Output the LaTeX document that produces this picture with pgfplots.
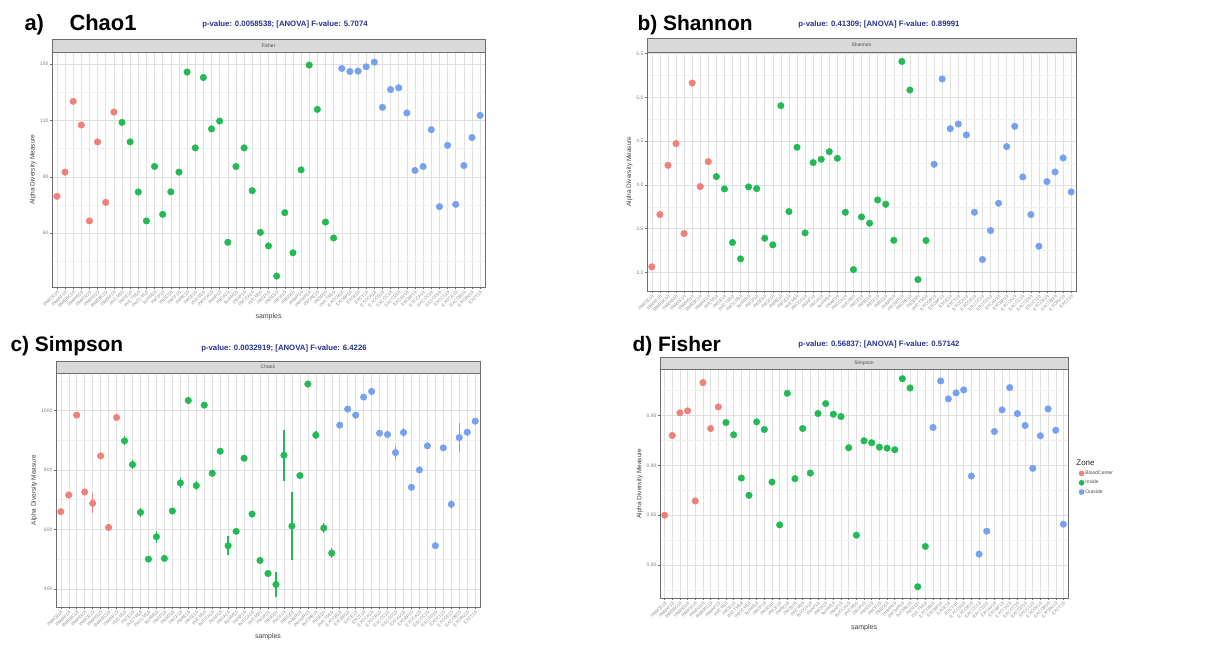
\documentclass[border=0pt]{standalone}
\usepackage{fontspec}
\setmainfont{Liberation Sans}
\usepackage{pgfplots}
\usepackage{pgfplotstable}
\pgfplotsset{compat=1.18}

\definecolor{zoneB}{RGB}{240,128,122}
\definecolor{zoneI}{RGB}{35,185,85}
\definecolor{zoneO}{RGB}{118,160,242}
\definecolor{pvblue}{RGB}{38,48,140}
\definecolor{stripfill}{RGB}{217,217,217}
\definecolor{frame}{RGB}{110,110,110}

\newcommand\fs[1]{\fontsize{#1}{#1}\selectfont}

% Chao1 panel (strip reads "Fisher")
\pgfplotstableread{
x y
1 79.6
2 92.5
3 130.2
4 117.6
5 66.5
6 108.6
7 76.4
8 124.5
9 119.0
10 108.6
11 81.9
12 66.5
13 95.5
14 70.0
15 82.0
16 92.5
17 145.8
18 105.4
19 142.9
20 115.5
21 119.7
22 55.1
23 95.5
24 105.4
25 82.6
26 60.4
27 53.2
28 37.1
29 70.9
30 49.5
31 93.7
32 149.5
33 125.9
34 65.9
35 57.4
36 147.7
37 146.1
38 146.3
39 148.6
40 151.1
41 127.0
42 136.5
43 137.4
44 124.0
45 93.4
46 95.5
47 115.1
48 74.1
49 106.8
50 75.3
51 96.0
52 110.9
53 122.7
}\chaoTab

% Shannon panel
\pgfplotstableread{
x y
1 3.063
2 3.661
3 4.224
4 4.472
5 3.444
6 5.165
7 3.981
8 4.266
9 4.095
10 3.954
11 3.341
12 3.154
13 3.977
14 3.958
15 3.390
16 3.314
17 4.906
18 3.695
19 4.430
20 3.451
21 4.255
22 4.293
23 4.380
24 4.304
25 3.687
26 3.032
27 3.634
28 3.562
29 3.828
30 3.779
31 3.367
32 5.412
33 5.085
34 2.918
35 3.364
36 4.236
37 5.211
38 4.643
39 4.696
40 4.571
41 3.687
42 3.147
43 3.478
44 3.790
45 4.438
46 4.670
47 4.091
48 3.661
49 3.299
50 4.038
51 4.148
52 4.308
53 3.920
}\shanTab

% Simpson panel (strip reads "Chao1"), with standard errors
\pgfplotstableread{
x y e
1 659.6 8
2 715.7 8
3 984.3 8
4 725.8 8
5 687.6 34
6 847.2 6
7 606.7 5
8 976.4 6
9 897.8 15
10 818.0 14
11 657.3 15
12 500.0 8
13 575.3 20
14 502.2 8
15 661.8 8
16 756.2 18
17 1033.7 12
18 747.2 15
19 1018.0 8
20 788.8 10
21 862.9 6
22 545.0 32
23 593.3 6
24 839.3 8
25 651.7 10
26 495.5 8
27 451.7 10
28 414.6 42
29 849.4 85
30 611.2 114
31 780.9 10
32 1088.8 6
33 916.9 14
34 604.5 18
35 520.2 18
36 950.6 12
37 1004.5 8
38 984.3 10
39 1044.9 10
40 1064.0 12
41 923.6 10
42 919.1 10
43 858.4 22
44 925.8 14
45 741.6 10
46 800.0 12
47 880.9 8
48 545.0 10
49 874.2 10
50 684.3 15
51 909.0 48
52 927.0 12
53 964.0 10
}\simpTab

% Fisher panel (strip reads "Simpson")
\pgfplotstableread{
x y
1 0.8500
2 0.9300
3 0.9527
4 0.9547
5 0.8643
6 0.9830
7 0.9370
8 0.9587
9 0.9430
10 0.9307
11 0.8873
12 0.8700
13 0.9437
14 0.9360
15 0.8833
16 0.8403
17 0.9723
18 0.8867
19 0.9370
20 0.8923
21 0.9520
22 0.9620
23 0.9513
24 0.9490
25 0.9177
26 0.8300
27 0.9247
28 0.9227
29 0.9183
30 0.9173
31 0.9157
32 0.9870
33 0.9777
34 0.7783
35 0.8187
36 0.9380
37 0.9847
38 0.9667
39 0.9727
40 0.9757
41 0.8893
42 0.8110
43 0.8340
44 0.9340
45 0.9557
46 0.9780
47 0.9520
48 0.9400
49 0.8970
50 0.9297
51 0.9567
52 0.9353
53 0.8410
}\fishTab

\pgfplotsset{
  samplelabels/.style={xticklabels={INWCE18,INWAF18,BWEBC18,INWHS18,INWCE19,INWHS19,BWEBC19,INWAF19,
    INICM18,INICE18,INICTM18,INICCM18,INIAM18,INICP18,INISD18,INICF18,INIRE18,INICE19,INICM19,
    INICCA18,INIAP18,INICA19,INIAM19,INIAP19,INICCA19,INICM20,INICP19,INISD19,INICF19,INIED19,
    INIMR19,INICMR19,INICRE19,INISD20,INICTM19,
    EXCCB18,EXCBP18,EXCE18,EXCT18,EXCCA18,EXCCB19,EXCCC18,EXCCD18,EXCAV18,EXCBP19,EXCCA19,
    EXCCC19,EXCCD19,EXCCL19,EXCCE19,EXCOB19,EXCRV19,EXCT19}},
  panel/.style={
    scale only axis, anchor=south west,
    xmin=0.4, xmax=53.6, xtick={1,...,53}, samplelabels,
    tick pos=left, tick align=outside,
    major tick length=2bp, minor tick length=0pt,
    tick style={frame, line width=0.5bp},
    x tick label style={rotate=45, anchor=north east, font=\fs{4.5}, text=black!45, inner sep=0.8pt},
    y tick label style={font=\fs{5}, text=black!50, inner sep=1.5pt},
    /pgf/number format/assume math mode=true,
    grid=both,
    major grid style={black!12, line width=0.5bp},
    minor grid style={black!6, line width=0.4bp},
    axis line style={frame, line width=0.8bp},
    ylabel={Alpha Diversity Measure},
    ylabel style={font=\fs{6.5}, text=black!75, yshift=-1bp},
    xlabel style={font=\fs{7}, text=black!75, yshift=-1bp},
    clip=false,
  },
  dots/.style={only marks, mark=*, mark size=3.3bp, mark options={draw=none}},
  redpts/.style={dots, zoneB, fill=zoneB, skip coords between index={8}{53}},
  grnpts/.style={dots, zoneI, fill=zoneI, skip coords between index={0}{8}, skip coords between index={35}{53}},
  blupts/.style={dots, zoneO, fill=zoneO, skip coords between index={0}{35}},
}

\begin{document}
\begin{tikzpicture}[x=1bp, y=1bp]
\path[use as bounding box] (0,0) rectangle (1217,645);

% ---------- a) Chao1 ----------
\begin{axis}[panel, at={(52bp,358bp)}, width=433bp, height=235bp,
  ymin=31.3, ymax=156.5, ytick={60,90,120,150}, minor ytick={45,75,105,135},
  xlabel={samples}]
  \addplot[redpts] table[x=x, y=y] {\chaoTab};
  \addplot[grnpts] table[x=x, y=y] {\chaoTab};
  \addplot[blupts] table[x=x, y=y] {\chaoTab};
\end{axis}
\draw[fill=stripfill, draw=frame, line width=0.8bp] (52,593) rectangle (485,606);
\node[font=\fs{5}, text=black!70] at (268.5,599.5) {Fisher};
\node[anchor=base west, font=\bfseries\fs{22}] at (21,614) {a)};
\node[anchor=base west, font=\bfseries\fs{22}] at (66,614) {Chao1};
\node[anchor=base, font=\bfseries\fs{7.8}, text=pvblue] at (285,618) {p-value: 0.0058538; [ANOVA] F-value: 5.7074};

% ---------- b) Shannon ----------
\begin{axis}[panel, at={(647bp,354bp)}, width=429bp, height=239bp,
  ymin=2.787, ymax=5.52, ytick={3.0,3.5,4.0,4.5,5.0,5.5}, minor ytick={3.25,3.75,4.25,4.75,5.25},
  yticklabel style={/pgf/number format/.cd, fixed, fixed zerofill, precision=1}]
  \addplot[redpts] table[x=x, y=y] {\shanTab};
  \addplot[grnpts] table[x=x, y=y] {\shanTab};
  \addplot[blupts] table[x=x, y=y] {\shanTab};
\end{axis}
\draw[fill=stripfill, draw=frame, line width=0.8bp] (647,593) rectangle (1076,607);
\node[font=\fs{5}, text=black!70] at (861.5,600) {Shannon};
\node[anchor=base west, font=\bfseries\fs{21}] at (634,614) {b) Shannon};
\node[anchor=base, font=\bfseries\fs{7.8}, text=pvblue] at (879,618) {p-value: 0.41309; [ANOVA] F-value: 0.89991};

% ---------- c) Simpson ----------
\begin{axis}[panel, at={(56bp,38bp)}, width=424bp, height=234bp,
  ymin=339, ymax=1126, ytick={400,600,800,1000}, minor ytick={500,700,900,1100},
  yticklabel style={/pgf/number format/1000 sep={}},
  xlabel={samples}]
  \addplot[redpts, error bars/.cd, y dir=both, y explicit, error mark=none,
    error bar style={line width=1.4bp, draw=zoneB}] table[x=x, y=y, y error=e] {\simpTab};
  \addplot[grnpts, error bars/.cd, y dir=both, y explicit, error mark=none,
    error bar style={line width=1.4bp, draw=zoneI}] table[x=x, y=y, y error=e] {\simpTab};
  \addplot[blupts, error bars/.cd, y dir=both, y explicit, error mark=none,
    error bar style={line width=1.4bp, draw=zoneO}] table[x=x, y=y, y error=e] {\simpTab};
\end{axis}
\draw[fill=stripfill, draw=frame, line width=0.8bp] (56,272) rectangle (480,284);
\node[font=\fs{5}, text=black!70] at (268,278) {Chao1};
\node[anchor=base west, font=\bfseries\fs{21}] at (7,293) {c) Simpson};
\node[anchor=base, font=\bfseries\fs{7.8}, text=pvblue] at (284,294) {p-value: 0.0032919; [ANOVA] F-value: 6.4226};

% ---------- d) Fisher ----------
\begin{axis}[panel, at={(660bp,47bp)}, width=408bp, height=229bp,
  ymin=0.767, ymax=0.9967, ytick={0.80,0.85,0.90,0.95}, minor ytick={0.775,0.825,0.875,0.925,0.975},
  yticklabel style={/pgf/number format/.cd, fixed, fixed zerofill, precision=2},
  xlabel={samples},
  legend style={at={(1.012,0.61)}, anchor=north west, draw=none, fill=none,
    font=\fs{5}, row sep=1.8bp, inner sep=0pt,
    nodes={inner sep=1.2bp, text=black!70}},
  legend cell align=left,
  legend image post style={mark size=2.6bp}]
  \addlegendimage{empty legend}
  \addlegendentry[font=\fs{8}, text=black!85]{\hspace{-9bp}Zone}
  \addplot[redpts] table[x=x, y=y] {\fishTab};
  \addlegendentry{BloodCenter}
  \addplot[grnpts] table[x=x, y=y] {\fishTab};
  \addlegendentry{Inside}
  \addplot[blupts] table[x=x, y=y] {\fishTab};
  \addlegendentry{Outside}
\end{axis}
\draw[fill=stripfill, draw=frame, line width=0.8bp] (660,276) rectangle (1068,288);
\node[font=\fs{5}, text=black!70] at (864,282) {Simpson};
\node[anchor=base west, font=\bfseries\fs{21}] at (629,293) {d) Fisher};
\node[anchor=base, font=\bfseries\fs{7.8}, text=pvblue] at (879,298) {p-value: 0.56837; [ANOVA] F-value: 0.57142};
\end{tikzpicture}
\end{document}
